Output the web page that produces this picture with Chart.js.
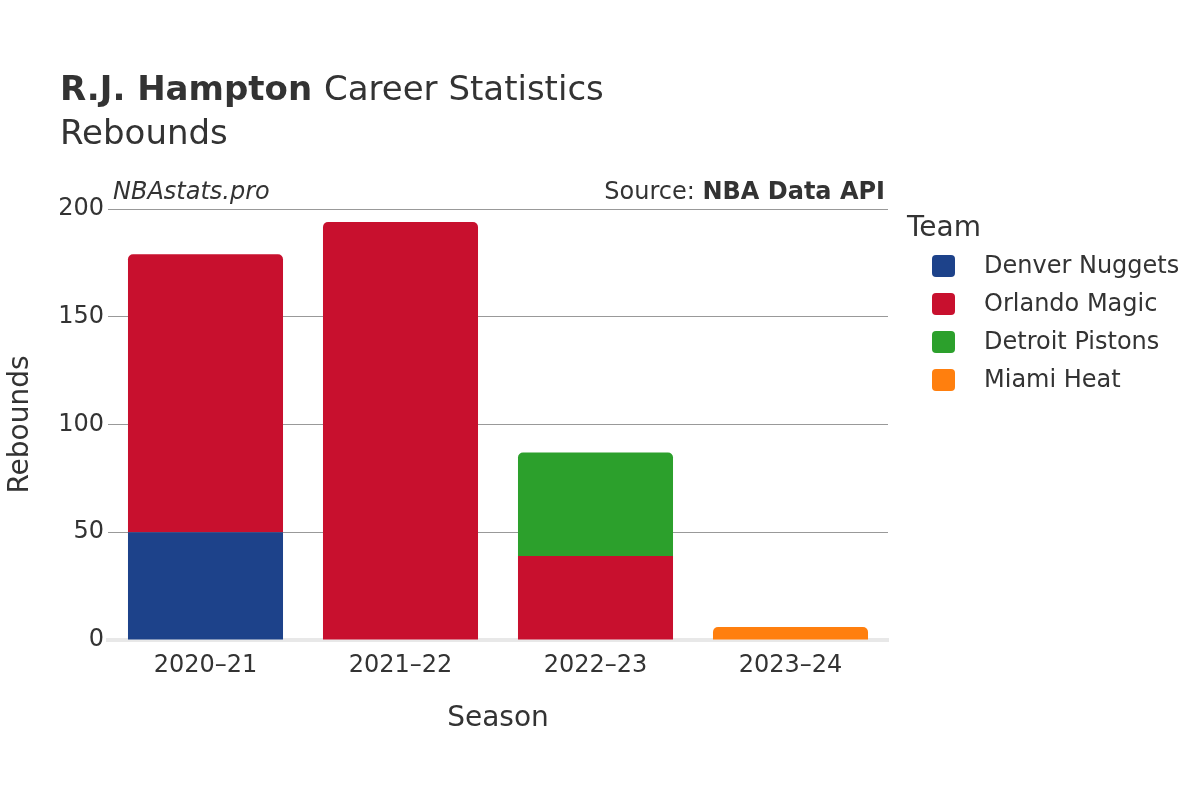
<!DOCTYPE html>
<html><head><meta charset="utf-8">
<script src="https://cdn.jsdelivr.net/npm/chart.js@4"></script>
<style>body{margin:0;background:#fff}#w{width:1200px;height:800px}</style>
</head><body><div id="w"><canvas id="c"></canvas></div>
<script>
const seasons = ["2020–21","2021–22","2022–23","2023–24"];
const teams = ["Denver Nuggets","Orlando Magic","Detroit Pistons","Miami Heat"];
const colors = ["#1d428a","#c8102e","#2ca02c","#ff7f0e"];
const denver = [50,0,0,0];
const orlando = [129,194,39,0];
const detroit = [0,0,48,0];
const miami = [0,0,0,6];
const yTicks = [0,50,100,150,200];
const series = [denver,orlando,detroit,miami];
const F = "'DejaVu Sans', sans-serif";
const txt = {
  id:'txt',
  afterDraw(ch){
    const c = ch.ctx; c.save();
    c.fillStyle='#333'; c.textBaseline='alphabetic';
    c.font="bold 34px "+F; c.fillText("R.J. Hampton",60,100);
    const w=c.measureText("R.J. Hampton ").width;
    c.font="34px "+F; c.fillText("Career Statistics",60+w,100);
    c.fillText("Rebounds",60,144);
    c.font="italic 24px "+F; c.fillText("NBAstats.pro",113,199);
    c.font="bold 24px "+F; const b=c.measureText("NBA Data API").width;
    c.textAlign='right'; c.fillText("NBA Data API",885,199);
    c.font="24px "+F; c.fillText("Source: ",885-b,199);
    c.textAlign='left'; c.font="28px "+F; c.fillText("Team",907,236);
    c.font="24px "+F;
    teams.forEach((t,i)=>{
      const y=266+i*38;
      c.fillStyle=colors[i]; c.beginPath(); c.roundRect(932,y-11,23,22,4); c.fill();
      c.fillStyle='#333'; c.textBaseline='middle'; c.fillText(t,984,y+1);
    });
    c.restore();
  }
};
new Chart(document.getElementById('c'),{
  type:'bar',
  data:{labels:seasons,datasets:series.map((d,i)=>({label:teams[i],data:d,backgroundColor:colors[i],borderRadius:5,borderSkipped:'start',barPercentage:0.795,categoryPercentage:1}))},
  options:{responsive:true,maintainAspectRatio:false,animation:false,
    layout:{padding:{left:0,top:209,right:312,bottom:60}},
    plugins:{legend:{display:false},tooltip:{enabled:false}},
    scales:{
      x:{stacked:true,grid:{display:false},border:{color:'#e8e8e8',width:4},
        ticks:{color:'#333',font:{family:F,size:24},padding:3},
        title:{display:true,text:'Season',color:'#333',font:{family:F,size:28},padding:{top:18}},
        afterFit(s){s.height=100;}},
      y:{stacked:true,min:0,max:200,afterBuildTicks(s){s.ticks=yTicks.map(v=>({value:v}));},
        grid:{color:ctx=>ctx.tick.value===0?'rgba(0,0,0,0)':'#999',drawTicks:false},border:{display:false},
        ticks:{color:'#333',font:{family:F,size:24},padding:4},
        title:{display:true,text:'Rebounds',color:'#333',font:{family:F,size:28},padding:{bottom:20}},
        afterFit(s){s.width=108;}}
    }},
  plugins:[txt]
});
</script></body></html>
